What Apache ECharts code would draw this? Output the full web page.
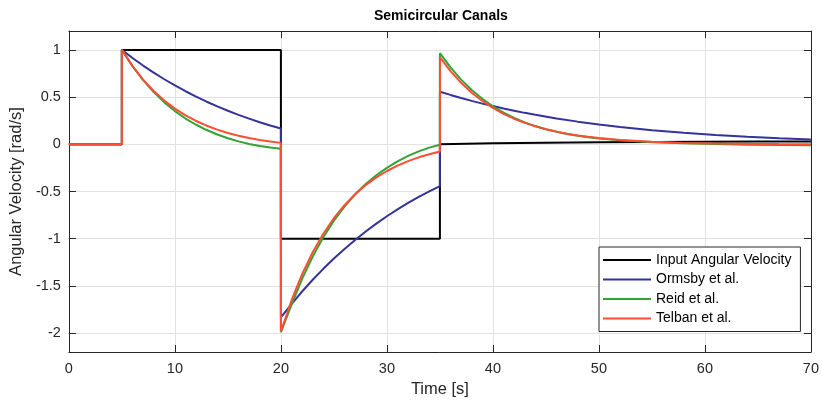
<!DOCTYPE html>
<html>
<head>
<meta charset="utf-8">
<script src="https://cdn.jsdelivr.net/npm/echarts@6/dist/echarts.min.js"></script>
<style>html,body{margin:0;padding:0;background:#fff}#c{width:822px;height:404px}</style>
</head>
<body>
<div id="c"></div>
<script>
// ---- data ----
const xTicks = [0, 10, 20, 30, 40, 50, 60, 70];
const yTicks = [-2, -1.5, -1, -0.5, 0, 0.5, 1];
const seriesNames = ['Input Angular Velocity', 'Ormsby et al.', 'Reid et al.', 'Telban et al.'];

const inputT = [0, 5, 5, 20, 20, 35, 35, 40, 45, 50, 55, 60, 65, 70];
const inputV = [0, 0, 1, 1, -1, -1, 0, 0.01, 0.017, 0.022, 0.025, 0.027, 0.029, 0.03];

const ormsbyT = [0, 5, 5, 6, 7, 8, 9, 10, 11, 12, 13, 14, 15, 16, 17, 18, 19, 20,
  20, 21, 22, 23, 24, 25, 26, 27, 28, 29, 30, 31, 32, 33, 34, 35,
  35, 36, 37, 38, 39, 40, 41, 42, 43, 44, 46, 48, 50, 52, 55, 58, 61, 64, 67, 70];
const ormsbyV = [0, 0, 1, 0.914, 0.834, 0.759, 0.689, 0.623, 0.562, 0.505, 0.451, 0.401, 0.355, 0.312, 0.272, 0.234, 0.199, 0.167,
  -1.833, -1.692, -1.559, -1.435, -1.319, -1.210, -1.108, -1.013, -0.924, -0.840, -0.762, -0.690, -0.621, -0.558, -0.499, -0.443,
  0.557, 0.523, 0.490, 0.460, 0.431, 0.405, 0.379, 0.356, 0.333, 0.312, 0.274, 0.240, 0.210, 0.184, 0.150, 0.122, 0.099, 0.079, 0.063, 0.050];

const reidT = [0, 5, 5, 6, 7, 8, 9, 10, 11, 12, 13, 14, 15, 16, 17, 18, 19, 20,
  20, 21, 22, 23, 24, 25, 26, 27, 28, 29, 30, 31, 32, 33, 34, 35,
  35, 36, 37, 38, 39, 40, 41, 42, 43, 44, 45, 46, 47, 48, 49, 50, 52, 55, 58, 61, 64, 67, 70];
const reidV = [0, 0, 1, 0.828, 0.680, 0.553, 0.444, 0.352, 0.273, 0.207, 0.151, 0.104, 0.064, 0.031, 0.004, -0.018, -0.035, -0.047,
  -1.99, -1.70, -1.425, -1.19, -0.985, -0.81, -0.66, -0.53, -0.42, -0.328, -0.25, -0.18, -0.122, -0.075, -0.035, -0.005,
  0.965, 0.815, 0.685, 0.575, 0.482, 0.402, 0.335, 0.279, 0.232, 0.193, 0.160, 0.133, 0.110, 0.091, 0.075, 0.062, 0.042, 0.022, 0.010, 0.002, -0.004, -0.008, -0.010];

const telbanT = [0, 5, 5, 6, 7, 8, 9, 10, 11, 12, 13, 14, 15, 16, 17, 18, 19, 20,
  20, 21, 22, 23, 24, 25, 26, 27, 28, 29, 30, 31, 32, 33, 34, 35,
  35, 36, 37, 38, 39, 40, 41, 42, 43, 44, 45, 46, 47, 48, 49, 50, 52, 55, 58, 61, 64, 67, 70];
const telbanV = [0, 0, 1, 0.829, 0.685, 0.564, 0.463, 0.378, 0.307, 0.247, 0.197, 0.155, 0.120, 0.091, 0.066, 0.046, 0.029, 0.015,
  -1.985, -1.654, -1.376, -1.143, -0.947, -0.783, -0.645, -0.529, -0.432, -0.351, -0.283, -0.226, -0.178, -0.138, -0.105, -0.077,
  0.923, 0.775, 0.651, 0.546, 0.459, 0.385, 0.323, 0.271, 0.227, 0.190, 0.160, 0.134, 0.112, 0.094, 0.079, 0.066, 0.046, 0.027, 0.015, 0.008, 0.004, 0.002, 0.001];

// ---- styling ----
const FONT = '"Liberation Sans", Arial, Helvetica, sans-serif';
const AXIS = '#262626';
const GRID = '#e2e2e2';
const colors = ['#000000', '#33339a', '#33a333', '#ff4d33'];

function zip(t, v) { return t.map((x, i) => [x, v[i]]); }

const labelStyle = { color: AXIS, fontFamily: FONT, fontSize: 14.5 };
const tickStyle = { show: true, inside: true, length: 7, lineStyle: { color: AXIS, width: 1 } };
const lineAx = { show: true, onZero: false, lineStyle: { color: AXIS, width: 1 } };

const xBase = { type: 'value', min: xTicks[0], max: xTicks[xTicks.length - 1], interval: xTicks[1] - xTicks[0] };
const yBase = { type: 'value', min: -2.2, max: 1.2, splitNumber: 7 };

const chart = echarts.init(document.getElementById('c'), null, { renderer: 'canvas' });
chart.setOption({
  animation: false,
  backgroundColor: '#ffffff',
  title: {
    text: 'Semicircular Canals', left: 369, top: 4,
    textStyle: { fontFamily: FONT, fontSize: 14, fontWeight: 'bold', color: '#000' }
  },
  grid: { left: 65, right: 10, top: 31, bottom: 52, containLabel: false },
  xAxis: [
    Object.assign({}, xBase, {
      position: 'bottom',
      name: 'Time [s]', nameLocation: 'middle', nameGap: 27,
      nameTextStyle: { color: AXIS, fontFamily: FONT, fontSize: 16.5 },
      axisLine: lineAx, axisTick: tickStyle,
      axisLabel: Object.assign({ margin: 9, formatter: v => xTicks.includes(v) ? String(v) : '' }, labelStyle),
      splitLine: { show: true, lineStyle: { color: GRID, width: 1 } }
    }),
    Object.assign({}, xBase, {
      position: 'top', axisLine: lineAx, axisTick: tickStyle,
      axisLabel: { show: false }, splitLine: { show: false }
    })
  ],
  yAxis: [
    Object.assign({}, yBase, {
      position: 'left',
      name: 'Angular Velocity [rad/s]', nameLocation: 'middle', nameGap: 42,
      nameTextStyle: { color: AXIS, fontFamily: FONT, fontSize: 16.5 },
      axisLine: lineAx, axisTick: tickStyle,
      axisLabel: Object.assign({ margin: 8, showMinLabel: false, showMaxLabel: false,
        formatter: v => yTicks.includes(v) ? String(v) : '' }, labelStyle),
      splitLine: { show: true, lineStyle: { color: GRID, width: 1 } }
    }),
    Object.assign({}, yBase, {
      position: 'right', axisLine: lineAx, axisTick: tickStyle,
      axisLabel: { show: false }, splitLine: { show: false }
    })
  ],
  legend: {
    orient: 'vertical', left: 599, top: 247,
    padding: [5, 9, 5, 4],
    icon: 'rect',
    itemWidth: 48, itemHeight: 2, itemGap: 3.5,
    backgroundColor: '#ffffff', borderColor: AXIS, borderWidth: 1, borderRadius: 0,
    textStyle: { color: '#000', fontFamily: FONT, fontSize: 14, lineHeight: 16, height: 16 },
    data: seriesNames
  },
  series: [
    [inputT, inputV], [ormsbyT, ormsbyV], [reidT, reidV], [telbanT, telbanV]
  ].map((d, i) => ({
    name: seriesNames[i], type: 'line', xAxisIndex: 0, yAxisIndex: 0,
    data: zip(d[0], d[1]),
    symbol: 'none', showSymbol: false, smooth: false,
    lineStyle: { color: colors[i], width: 2 },
    itemStyle: { color: colors[i] },
    z: 3 + i
  }))
});
</script>
</body>
</html>
